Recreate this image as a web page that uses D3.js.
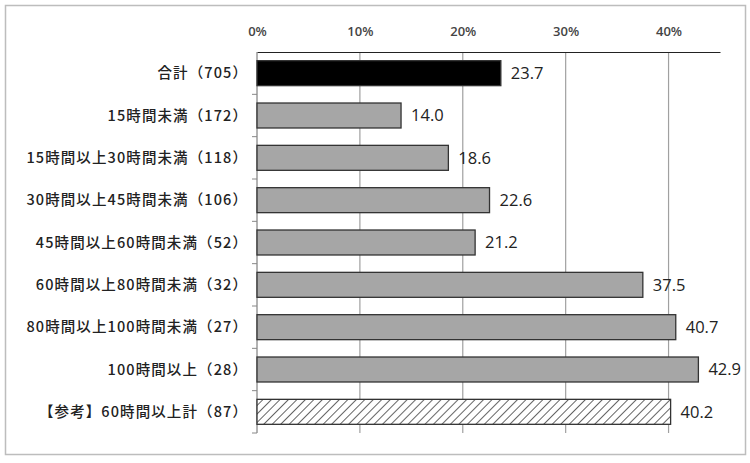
<!DOCTYPE html>
<html>
<head>
<meta charset="utf-8">
<script src="https://cdn.jsdelivr.net/npm/d3@7"></script>
<style>
  body { margin: 0; background: #fff; }
</style>
</head>
<body>
<div id="vis"></div>
<script>
// data
var categories = [
  "合計（705）",
  "15時間未満（172）",
  "15時間以上30時間未満（118）",
  "30時間以上45時間未満（106）",
  "45時間以上60時間未満（52）",
  "60時間以上80時間未満（32）",
  "80時間以上100時間未満（27）",
  "100時間以上（28）",
  "【参考】60時間以上計（87）"
];
var values = [23.7, 14.0, 18.6, 22.6, 21.2, 37.5, 40.7, 42.9, 40.2];
var barKinds = ["total", "normal", "normal", "normal", "normal", "normal", "normal", "normal", "ref"];
var tickValues = [0, 10, 20, 30, 40];

var W = 750, H = 463;
var margin = {top: 52, right: 30, bottom: 30, left: 257};

var svg = d3.select("#vis").append("svg")
    .attr("width", W)
    .attr("height", H);

// hatch pattern for the reference bar
var defs = svg.append("defs");
defs.append("pattern")
    .attr("id", "hatch")
    .attr("patternUnits", "userSpaceOnUse")
    .attr("width", 6)
    .attr("height", 6)
    .attr("patternTransform", "rotate(45)")
  .call(p => {
    p.append("rect").attr("width", 6).attr("height", 6).attr("fill", "#fff");
    p.append("line").attr("x1", 0).attr("y1", 0).attr("x2", 0).attr("y2", 6)
      .attr("stroke", "#222").attr("stroke-width", 1.4);
  });

// outer frame
svg.append("rect")
    .attr("x", 5.5).attr("y", 5.5)
    .attr("width", 740).attr("height", 449)
    .attr("fill", "#fff")
    .attr("stroke", "#bdbdbd")
    .attr("stroke-width", 1.5);

var x = d3.scaleLinear()
    .domain([0, 45])
    .range([margin.left, 720]);

var y = d3.scaleBand()
    .domain(categories)
    .range([margin.top, 433])
    .paddingInner(0.41)
    .paddingOuter(0.205);

var yOuter = d3.scaleBand()
    .domain(categories)
    .range([margin.top, 433]);

// gridlines
svg.append("g")
  .selectAll("line")
  .data(tickValues.filter(d => d > 0))
  .join("line")
    .attr("x1", d => x(d)).attr("x2", d => x(d))
    .attr("y1", margin.top).attr("y2", 433)
    .attr("stroke", "#a0a0a0")
    .attr("stroke-width", 1.2);

// top axis
var xAxis = svg.append("g")
    .attr("transform", `translate(0,${margin.top})`)
    .call(d3.axisTop(x).tickValues(tickValues).tickFormat(d => d + "%").tickSize(0).tickPadding(16));
xAxis.select(".domain").attr("stroke", "#222").attr("stroke-width", 1.2);
xAxis.selectAll("text")
    .attr("font-family", "'Open Sans', sans-serif")
    .attr("font-size", 13)
    .attr("font-weight", 600)
    .attr("fill", "#444");

// left axis: vertical line with ticks between categories
var yAxisG = svg.append("g");
yAxisG.append("line")
    .attr("x1", margin.left).attr("x2", margin.left)
    .attr("y1", margin.top).attr("y2", 433)
    .attr("stroke", "#666");
yAxisG.selectAll("line.tick")
  .data(categories)
  .join("line")
    .attr("class", "tick")
    .attr("x1", margin.left - 5).attr("x2", margin.left)
    .attr("y1", d => yOuter(d) + yOuter.bandwidth())
    .attr("y2", d => yOuter(d) + yOuter.bandwidth())
    .attr("stroke", "#888");

// category labels (full-width closing paren leaves blank space, so anchor a bit right)
svg.append("g")
  .selectAll("text")
  .data(categories)
  .join("text")
    .attr("x", 248)
    .attr("y", d => yOuter(d) + yOuter.bandwidth() / 2)
    .attr("dy", "0.36em")
    .attr("text-anchor", "end")
    .attr("font-family", "'Noto Sans CJK JP', sans-serif")
    .attr("font-size", 14.5)
    .attr("font-weight", 500)
    .attr("letter-spacing", 1.1)
    .attr("fill", "#222")
    .text(d => d);

// bars
var fills = {total: "#000", normal: "#a6a6a6", ref: "url(#hatch)"};
svg.append("g")
  .selectAll("rect")
  .data(values)
  .join("rect")
    .attr("x", x(0))
    .attr("y", (d, i) => y(categories[i]))
    .attr("width", d => x(d) - x(0))
    .attr("height", y.bandwidth())
    .attr("fill", (d, i) => fills[barKinds[i]])
    .attr("stroke", "#333")
    .attr("stroke-width", 1.3);

// value labels
svg.append("g")
  .selectAll("text")
  .data(values)
  .join("text")
    .attr("x", d => x(d) + 10)
    .attr("y", (d, i) => y(categories[i]) + y.bandwidth() / 2)
    .attr("dy", "0.36em")
    .attr("font-family", "'Open Sans', sans-serif")
    .attr("font-size", 16.5)
    .attr("fill", "#222")
    .text(d => d.toFixed(1));
</script>
</body>
</html>
